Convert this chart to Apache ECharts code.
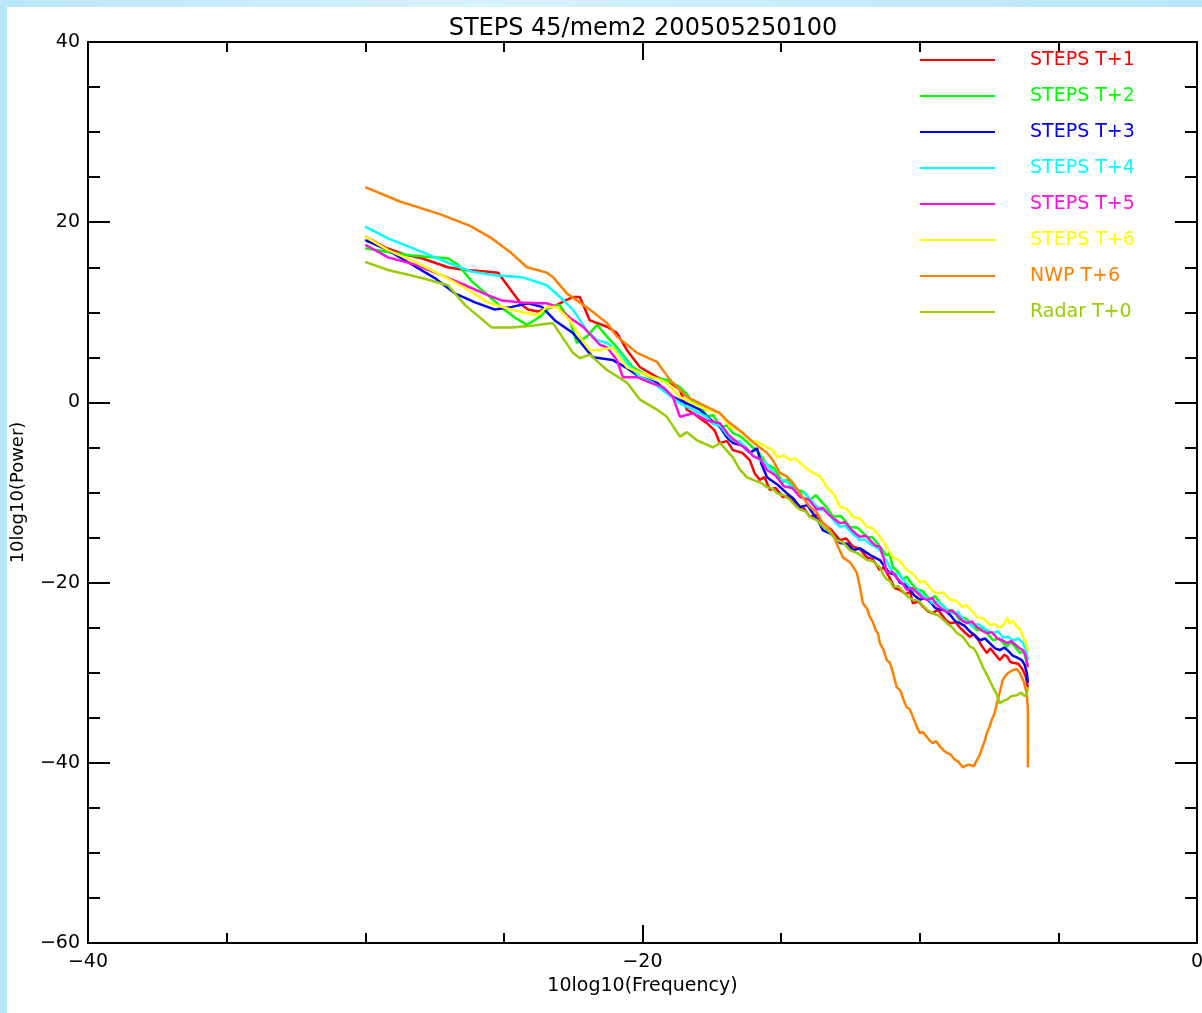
<!DOCTYPE html>
<html><head><meta charset="utf-8">
<script src="https://cdn.jsdelivr.net/npm/echarts@6/dist/echarts.min.js"></script>
<style>
html,body{margin:0;padding:0;width:1202px;height:1013px;overflow:hidden;background:linear-gradient(90deg,#b9e6f9,#d8f3fd 40%,#c4ecfb 70%,#b9e6f9);}
#c{position:absolute;left:7px;top:7px;width:1195px;height:1006px;background:#fff;}
</style></head><body><div id="c"></div>
<script>
const chartTitle = 'STEPS 45/mem2 200505250100';
const xName = '10log10(Frequency)';
const yName = '10log10(Power)';
const xTicks = [-40, -20, 0];
const yTicks = [-60, -40, -20, 0, 20, 40];
const seriesNames = ['STEPS T+1','STEPS T+2','STEPS T+3','STEPS T+4','STEPS T+5','STEPS T+6','NWP T+6','Radar T+0'];
const seriesColors = ['#ff0000','#00ff00','#0000ff','#00ffff','#ff10e0','#ffff00','#ff8000','#99cc00'];

const stepsT1 = [[-30,18.4],[-29.29,17.2],[-28.57,16.4],[-27.96,16.0],[-27.02,15.0],[-26.4,14.7],[-25.58,14.5],[-25.21,14.4],[-24.71,12.3],[-24.35,10.8],[-24.13,10.3],[-23.77,10.1],[-23.23,10.6],[-22.51,11.7],[-22.26,11.7],[-21.9,9.1],[-21.28,8.4],[-20.92,7.7],[-20.56,5.8],[-20.09,3.9],[-19.48,2.8],[-19.01,2.2],[-18.65,1.4],[-18.4,-0.8],[-18.18,-1.2],[-17.68,-2.3],[-17.4,-3.1],[-17.21,-4.5],[-16.95,-4.3],[-16.74,-5.3],[-16.4,-5.6],[-16.13,-6.4],[-15.95,-7.9],[-15.77,-8.6],[-15.6,-8.3],[-15.41,-9.7],[-15.2,-9.5],[-14.94,-10.5],[-14.7,-10.4],[-14.43,-11.6],[-14.2,-11.7],[-13.96,-12.7],[-13.7,-12.5],[-13.49,-13.4],[-13.2,-14.1],[-12.88,-15.3],[-12.65,-15.1],[-12.41,-16.0],[-12.15,-16.3],[-11.91,-17.2],[-11.7,-17.4],[-11.44,-18.6],[-11.3,-18.3],[-11.1,-19.4],[-10.9,-20.6],[-10.72,-20.8],[-10.5,-21.3],[-10.35,-21.0],[-10.25,-22.3],[-10.05,-22.1],[-9.9,-22.6],[-9.7,-23.2],[-9.53,-23.4],[-9.35,-23.0],[-9.2,-23.6],[-9.05,-24.2],[-8.91,-24.5],[-8.7,-24.4],[-8.55,-25.0],[-8.35,-25.6],[-8.19,-26.0],[-8.05,-25.7],[-7.9,-26.3],[-7.75,-27.1],[-7.58,-27.8],[-7.45,-27.3],[-7.3,-27.9],[-7.11,-28.6],[-6.95,-28.0],[-6.85,-28.2],[-6.74,-28.8],[-6.64,-28.9],[-6.45,-29.0],[-6.35,-29.4],[-6.28,-29.7],[-6.18,-30.4],[-6.1,-31.6]];

const stepsT2 = [[-30,17.1],[-29.18,16.7],[-28.57,16.4],[-27.59,16.1],[-27.02,16.0],[-26.66,15.3],[-26.15,13.4],[-25.58,11.9],[-25.07,10.5],[-24.6,9.4],[-24.17,8.6],[-23.7,9.5],[-23.34,10.6],[-22.98,10.8],[-22.62,9.1],[-22.37,6.6],[-22.01,7.3],[-21.64,8.6],[-21.28,7.3],[-20.92,6.1],[-20.35,3.9],[-19.73,2.8],[-19.12,2.5],[-18.65,1.7],[-18.4,0.9],[-18.18,0.0],[-17.9,-0.4],[-17.68,-1.6],[-17.45,-1.4],[-17.21,-2.7],[-16.95,-2.6],[-16.74,-3.4],[-16.45,-3.8],[-16.13,-4.7],[-15.8,-5.6],[-15.51,-6.9],[-15.25,-7.3],[-14.94,-8.9],[-14.75,-8.5],[-14.5,-9.6],[-14.2,-9.9],[-13.96,-10.8],[-13.75,-10.3],[-13.49,-11.2],[-13.3,-11.9],[-13.13,-12.7],[-12.85,-12.6],[-12.52,-13.8],[-12.25,-13.9],[-11.91,-14.9],[-11.7,-15.0],[-11.44,-16.0],[-11.2,-17.0],[-11.1,-16.7],[-10.97,-18.3],[-10.8,-18.7],[-10.61,-19.7],[-10.48,-19.3],[-10.35,-19.9],[-10.1,-20.8],[-9.9,-20.9],[-9.64,-21.9],[-9.45,-21.5],[-9.3,-22.1],[-9.02,-23.0],[-8.8,-23.1],[-8.55,-24.2],[-8.38,-23.9],[-8.2,-24.4],[-7.94,-25.3],[-7.75,-25.0],[-7.6,-25.5],[-7.36,-26.4],[-7.15,-26.2],[-6.86,-27.1],[-6.72,-26.6],[-6.6,-27.0],[-6.39,-27.8],[-6.25,-27.6],[-6.1,-29.4]];

const stepsT3 = [[-30,18.0],[-29.18,16.9],[-28.32,15.3],[-27.49,13.8],[-26.77,12.1],[-26.04,11.1],[-25.32,10.3],[-24.71,10.6],[-24.13,11.0],[-23.63,10.6],[-23.16,9.1],[-22.51,7.7],[-21.79,5.0],[-21.07,4.7],[-20.56,3.8],[-20.09,2.8],[-19.48,2.2],[-18.9,0.6],[-18.4,-0.1],[-17.93,-0.8],[-17.55,-1.9],[-17.21,-2.7],[-16.95,-3.9],[-16.74,-4.5],[-16.4,-4.8],[-16.13,-5.6],[-15.87,-5.1],[-15.7,-6.9],[-15.51,-8.3],[-15.1,-9.2],[-14.79,-10.1],[-14.55,-10.7],[-14.32,-11.6],[-14.05,-11.4],[-13.86,-12.3],[-13.65,-13.2],[-13.49,-14.2],[-13.2,-14.6],[-12.88,-15.6],[-12.6,-15.7],[-12.41,-16.4],[-12.15,-16.2],[-11.91,-16.7],[-11.7,-17.1],[-11.44,-17.5],[-11.25,-18.3],[-11.1,-18.9],[-10.9,-19.1],[-10.72,-20.0],[-10.55,-20.2],[-10.4,-20.6],[-10.2,-21.4],[-10.0,-21.9],[-9.8,-21.7],[-9.6,-22.2],[-9.45,-22.8],[-9.28,-23.0],[-9.1,-23.1],[-8.9,-23.6],[-8.72,-24.3],[-8.55,-24.5],[-8.38,-24.8],[-8.2,-25.4],[-8.0,-25.9],[-7.83,-26.4],[-7.65,-26.2],[-7.45,-26.8],[-7.28,-27.3],[-7.11,-27.5],[-6.95,-27.2],[-6.8,-27.6],[-6.65,-28.1],[-6.5,-28.3],[-6.32,-28.6],[-6.22,-29.1],[-6.14,-30.0],[-6.1,-31.1]];

const stepsT4 = [[-30,19.5],[-29.18,18.2],[-27.96,16.7],[-27.02,15.5],[-26.15,14.5],[-25.32,14.1],[-24.35,13.9],[-23.45,13.0],[-22.98,11.7],[-22.51,10.3],[-22.01,8.0],[-21.64,6.9],[-21.28,6.6],[-20.92,5.8],[-20.56,4.4],[-20.09,2.8],[-19.63,2.2],[-19.12,1.0],[-18.65,-0.1],[-18.18,-0.8],[-17.68,-1.6],[-17.45,-2.4],[-17.2,-2.6],[-16.95,-3.6],[-16.74,-4.2],[-16.5,-4.3],[-16.3,-4.9],[-16.05,-5.8],[-15.77,-6.4],[-15.6,-6.6],[-15.4,-7.3],[-15.2,-8.0],[-15.05,-8.6],[-14.85,-8.7],[-14.7,-9.1],[-14.5,-9.8],[-14.32,-10.1],[-14.15,-10.0],[-13.95,-10.8],[-13.8,-11.3],[-13.6,-11.9],[-13.4,-12.0],[-13.2,-12.7],[-13.05,-13.3],[-12.88,-13.8],[-12.7,-13.7],[-12.5,-14.3],[-12.3,-14.9],[-12.16,-15.3],[-12.0,-15.2],[-11.8,-15.7],[-11.6,-16.0],[-11.44,-16.4],[-11.2,-17.6],[-10.97,-18.9],[-10.8,-19.0],[-10.6,-19.6],[-10.42,-20.3],[-10.25,-20.8],[-10.05,-20.9],[-9.9,-21.4],[-9.7,-21.8],[-9.53,-22.3],[-9.35,-22.1],[-9.15,-22.6],[-9.0,-23.1],[-8.81,-23.4],[-8.62,-23.3],[-8.45,-24.0],[-8.25,-24.5],[-8.09,-24.9],[-7.9,-24.6],[-7.7,-25.0],[-7.52,-25.4],[-7.36,-25.6],[-7.18,-25.4],[-7.0,-26.1],[-6.82,-26.0],[-6.64,-26.4],[-6.45,-26.2],[-6.28,-26.7],[-6.18,-27.4],[-6.1,-28.6]];

const stepsT5 = [[-30,17.5],[-29.18,16.1],[-28.21,15.3],[-27.23,14.1],[-26.4,13.0],[-25.58,11.9],[-25.07,11.3],[-24.35,11.1],[-23.77,11.0],[-23.45,11.0],[-23.09,10.6],[-22.62,9.4],[-22.15,8.4],[-21.54,6.4],[-21.28,6.1],[-20.92,4.7],[-20.71,2.8],[-20.2,2.8],[-19.73,2.2],[-19.26,1.7],[-18.9,0.6],[-18.65,-1.6],[-18.18,-1.2],[-17.68,-2.0],[-17.21,-2.3],[-16.9,-3.6],[-16.49,-4.7],[-16.25,-5.1],[-16.0,-6.0],[-15.75,-6.3],[-15.51,-7.5],[-15.2,-8.1],[-14.9,-9.3],[-14.6,-9.5],[-14.32,-10.5],[-14.0,-10.8],[-13.71,-11.9],[-13.5,-11.7],[-13.3,-12.4],[-13.1,-12.9],[-12.88,-13.4],[-12.7,-13.3],[-12.5,-14.0],[-12.3,-14.6],[-12.16,-14.9],[-11.95,-14.8],[-11.8,-15.3],[-11.6,-15.9],[-11.44,-16.0],[-11.3,-17.3],[-11.19,-18.9],[-11.0,-18.8],[-10.8,-19.6],[-10.62,-20.1],[-10.47,-20.8],[-10.28,-20.6],[-10.1,-21.1],[-9.9,-21.7],[-9.74,-21.9],[-9.55,-21.7],[-9.4,-22.4],[-9.2,-22.9],[-9.02,-23.3],[-8.85,-23.1],[-8.65,-23.6],[-8.48,-24.2],[-8.3,-24.5],[-8.12,-24.3],[-7.95,-24.9],[-7.78,-25.3],[-7.58,-25.6],[-7.4,-25.5],[-7.2,-26.2],[-7.02,-26.4],[-6.86,-26.7],[-6.7,-26.5],[-6.55,-26.9],[-6.4,-27.3],[-6.28,-27.5],[-6.18,-28.1],[-6.1,-29.4]];

const stepsT6 = [[-30,18.4],[-29.18,16.9],[-28.21,15.6],[-27.23,14.1],[-26.4,12.7],[-25.58,11.1],[-24.96,10.5],[-24.35,10.0],[-23.77,9.7],[-23.45,10.6],[-23.09,10.6],[-22.62,9.1],[-22.26,7.3],[-21.9,5.8],[-21.54,5.8],[-21.07,6.1],[-20.56,3.9],[-20.09,3.3],[-19.63,2.8],[-19.12,2.2],[-18.65,0.6],[-18.18,-0.1],[-17.68,-0.8],[-17.21,-1.2],[-16.85,-2.7],[-16.5,-3.1],[-16.13,-4.2],[-15.85,-4.4],[-15.51,-5.0],[-15.3,-5.3],[-15.15,-6.1],[-14.9,-5.9],[-14.68,-6.4],[-14.5,-6.2],[-14.32,-6.7],[-14.1,-7.3],[-13.86,-7.8],[-13.6,-8.2],[-13.35,-9.4],[-13.1,-10.2],[-12.88,-11.6],[-12.65,-11.8],[-12.41,-12.7],[-12.15,-12.9],[-11.91,-13.8],[-11.68,-14.0],[-11.44,-14.9],[-11.2,-16.0],[-10.97,-17.2],[-10.75,-17.5],[-10.47,-18.6],[-10.25,-19.0],[-10.0,-20.0],[-9.85,-19.8],[-9.7,-20.3],[-9.55,-20.9],[-9.38,-21.2],[-9.15,-21.1],[-8.91,-21.9],[-8.7,-22.0],[-8.45,-22.7],[-8.3,-22.5],[-8.2,-22.9],[-8.05,-23.4],[-7.94,-23.8],[-7.7,-24.0],[-7.47,-24.7],[-7.3,-24.6],[-7.11,-25.0],[-6.95,-24.6],[-6.85,-23.9],[-6.75,-24.5],[-6.62,-24.3],[-6.5,-24.9],[-6.38,-25.2],[-6.28,-26.0],[-6.18,-26.6],[-6.1,-27.5]];

const nwpT6 = [[-30,23.9],[-28.75,22.3],[-27.31,20.9],[-26.22,19.6],[-25.43,18.2],[-24.78,16.7],[-24.17,15.0],[-23.45,14.4],[-23.23,13.9],[-22.73,12.1],[-21.9,10.3],[-21.28,8.8],[-20.92,7.3],[-20.2,5.5],[-19.48,4.5],[-19.01,2.5],[-18.4,0.6],[-17.68,-0.5],[-17.21,-1.2],[-16.96,-2.0],[-16.38,-3.4],[-15.95,-4.6],[-15.51,-5.6],[-15.3,-6.4],[-15.05,-7.8],[-14.8,-8.2],[-14.58,-8.9],[-14.3,-10.2],[-13.96,-11.6],[-13.7,-12.3],[-13.49,-13.4],[-13.3,-13.9],[-13.13,-14.7],[-12.95,-16.0],[-12.77,-17.2],[-12.5,-17.8],[-12.27,-18.9],[-12.15,-20.6],[-12.05,-22.3],[-11.9,-22.9],[-11.8,-23.8],[-11.7,-24.3],[-11.6,-25.2],[-11.5,-25.7],[-11.44,-26.7],[-11.3,-27.5],[-11.19,-28.6],[-11.08,-28.9],[-11.0,-29.6],[-10.9,-30.8],[-10.83,-31.6],[-10.72,-31.9],[-10.65,-32.4],[-10.55,-33.3],[-10.47,-33.8],[-10.35,-34.1],[-10.25,-34.9],[-10.12,-35.9],[-10.0,-36.7],[-9.88,-36.6],[-9.75,-37.1],[-9.62,-37.6],[-9.53,-37.8],[-9.4,-37.6],[-9.3,-38.1],[-9.15,-38.6],[-9.02,-38.9],[-8.88,-39.1],[-8.75,-39.6],[-8.6,-39.9],[-8.45,-40.5],[-8.32,-40.3],[-8.2,-40.2],[-8.05,-40.4],[-7.94,-39.7],[-7.85,-39.2],[-7.75,-38.4],[-7.65,-37.5],[-7.58,-36.7],[-7.48,-36.0],[-7.4,-35.2],[-7.3,-34.5],[-7.22,-33.4],[-7.1,-32.0],[-7.0,-30.8],[-6.9,-30.3],[-6.8,-30.0],[-6.64,-29.7],[-6.5,-29.6],[-6.39,-30.0],[-6.25,-31.0],[-6.14,-32.3],[-6.1,-34.1],[-6.1,-40.5]];

const radarT0 = [[-30,15.6],[-29.18,14.7],[-27.96,13.8],[-27.02,13.0],[-26.4,10.8],[-25.43,8.3],[-24.71,8.3],[-23.99,8.5],[-23.23,8.8],[-22.51,5.5],[-22.26,4.9],[-21.9,5.3],[-21.28,3.6],[-20.56,2.2],[-20.09,0.3],[-19.48,-0.8],[-19.12,-1.6],[-18.65,-3.8],[-18.4,-3.3],[-18.04,-4.2],[-17.46,-5.0],[-17.21,-4.5],[-16.74,-6.1],[-16.5,-7.4],[-16.24,-8.3],[-16.02,-8.6],[-15.75,-8.9],[-15.51,-9.4],[-15.3,-9.6],[-15.15,-10.1],[-14.9,-10.3],[-14.68,-10.8],[-14.5,-11.4],[-14.32,-11.9],[-14.12,-12.1],[-13.96,-12.7],[-13.7,-13.1],[-13.49,-13.8],[-13.25,-14.4],[-12.99,-15.3],[-12.75,-15.6],[-12.52,-16.4],[-12.2,-16.8],[-11.91,-17.5],[-11.7,-17.6],[-11.44,-18.3],[-11.3,-19.2],[-11.2,-19.6],[-11.05,-19.9],[-10.97,-20.5],[-10.78,-20.4],[-10.6,-21.0],[-10.42,-21.6],[-10.25,-21.9],[-10.05,-22.0],[-9.9,-22.5],[-9.7,-23.1],[-9.53,-23.4],[-9.3,-23.7],[-9.02,-24.5],[-8.85,-24.9],[-8.66,-25.6],[-8.45,-26.0],[-8.19,-27.1],[-8.05,-27.3],[-7.95,-27.8],[-7.82,-28.7],[-7.72,-29.4],[-7.55,-30.4],[-7.36,-31.6],[-7.22,-32.4],[-7.11,-33.4],[-6.98,-33.1],[-6.86,-33.0],[-6.7,-32.6],[-6.5,-32.5],[-6.35,-32.2],[-6.22,-32.6],[-6.14,-32.3],[-6.1,-31.6]];

const seriesData = [stepsT1, stepsT2, stepsT3, stepsT4, stepsT5, stepsT6, nwpT6, radarT0];

const FONT = 'DejaVu Sans';
const fmt = v => String(v).replace('-', '\u2212');

function xAx(pos, showLabel) {
  return {
    type: 'value', position: pos, min: xTicks[0], max: xTicks[xTicks.length - 1],
    interval: xTicks[1] - xTicks[0],
    name: showLabel ? xName : '', nameLocation: 'middle', nameGap: 32,
    nameTextStyle: { fontFamily: FONT, fontSize: 19, color: '#000' },
    axisLine: { show: true, onZero: false, lineStyle: { color: '#000', width: 2 } },
    axisTick: { show: true, inside: true, length: 18, lineStyle: { color: '#000', width: 2 } },
    minorTick: { show: true, splitNumber: 4, length: 10, lineStyle: { color: '#000', width: 2 } },
    axisLabel: { show: showLabel, margin: 10, fontFamily: FONT, fontSize: 19, color: '#000', formatter: fmt },
    splitLine: { show: false }, minorSplitLine: { show: false }
  };
}
function yAx(pos, showLabel) {
  return {
    type: 'value', position: pos, min: yTicks[0], max: yTicks[yTicks.length - 1],
    interval: yTicks[1] - yTicks[0],
    name: showLabel ? yName : '', nameLocation: 'middle', nameGap: 61, nameRotate: 90,
    nameTextStyle: { fontFamily: FONT, fontSize: 18, color: '#000' },
    axisLine: { show: true, onZero: false, lineStyle: { color: '#000', width: 2 } },
    axisTick: { show: true, inside: true, length: 22, lineStyle: { color: '#000', width: 2 } },
    minorTick: { show: true, splitNumber: 4, length: 12, lineStyle: { color: '#000', width: 2 } },
    axisLabel: { show: showLabel, margin: 8, fontFamily: FONT, fontSize: 19, color: '#000', formatter: fmt },
    splitLine: { show: false }, minorSplitLine: { show: false }
  };
}

const chart = echarts.init(document.getElementById('c'), null, { renderer: 'canvas' });
chart.setOption({
  animation: false,
  backgroundColor: '#fff',
  title: {
    text: chartTitle, left: 636, top: 10, textAlign: 'center', padding: 0,
    textStyle: { fontFamily: FONT, fontSize: 24, fontWeight: 'normal', color: '#000' }
  },
  grid: { left: 81, top: 35, right: 5, bottom: 70, outerBoundsMode: 'none', containLabel: false },
  xAxis: [xAx('bottom', true), xAx('top', false)],
  yAxis: [yAx('left', true), yAx('right', false)],
  legend: {
    orient: 'vertical', left: 913, top: 43, padding: 0,
    icon: 'rect', itemWidth: 75, itemHeight: 2, itemGap: 16, selectedMode: false,
    textStyle: { fontFamily: FONT, fontSize: 19, lineHeight: 20, padding: [0, 0, 0, 30] },
    data: seriesNames.map((n, i) => ({ name: n, textStyle: { color: seriesColors[i] } }))
  },
  series: seriesNames.map((n, i) => ({
    name: n, type: 'line', data: seriesData[i], symbol: 'none', showSymbol: false,
    xAxisIndex: 0, yAxisIndex: 0,
    lineStyle: { color: seriesColors[i], width: 2.5 }, itemStyle: { color: seriesColors[i] },
    clip: true
  }))
});
</script></body></html>
